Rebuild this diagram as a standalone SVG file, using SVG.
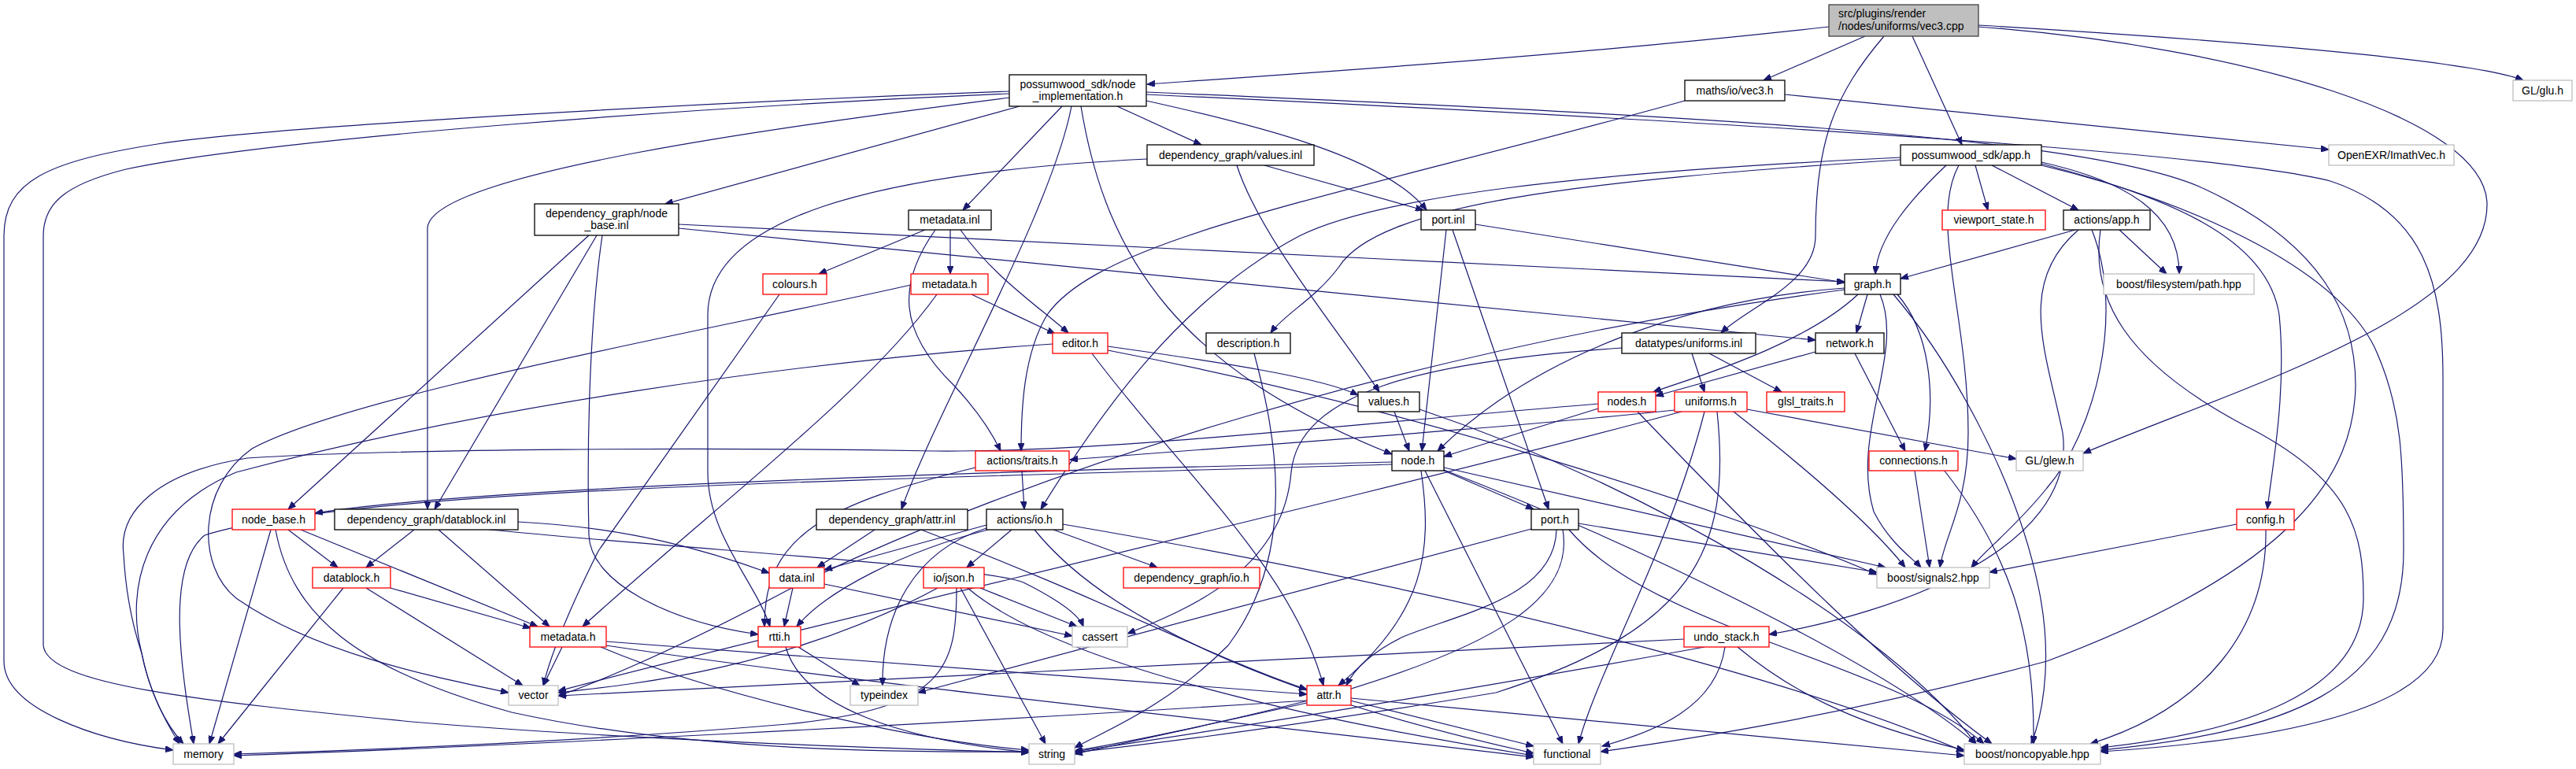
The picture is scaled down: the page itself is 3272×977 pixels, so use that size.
<svg xmlns="http://www.w3.org/2000/svg" width="3272" height="977" viewBox="0 0 3272 977">
<style>
.n rect{fill:#fff;stroke:#000;stroke-width:1.3}
.r rect{stroke:#ff0000}
.g rect{stroke:#bfbfbf}
.root rect{fill:#bfbfbf;stroke:#404040}
text{font-family:"Liberation Sans",Arial,sans-serif;font-size:14px;fill:#000;text-anchor:middle}
#edges path{fill:none;stroke:#191970;stroke-width:1.2;marker-end:url(#a)}
</style>
<defs>
<marker id="a" markerWidth="11" markerHeight="8" refX="10" refY="4" orient="auto" markerUnits="userSpaceOnUse"><path d="M0,0 L10,4 L0,8 z" fill="#191970" stroke="#191970"/></marker>
</defs>
<rect width="3272" height="977" fill="#fff"/>
<g id="edges">
<path d="M2323,34 C2000,70 1700,90 1457,107"/>
<path d="M2369,46 L2240,102"/>
<path d="M2393,46 C2330,120 2306,180 2306,300 C2306,360 2220,390 2186,423"/>
<path d="M2429,46 L2492,184"/>
<path d="M2513,32 C2900,55 3150,80 3205,102"/>
<path d="M2513,34 C2850,60 3159,150 3159,260 C3159,400 2850,490 2646,576"/>
<path d="M1282,116 C900,130 350,160 200,183 C60,205 5,230 5,300 L5,840 C5,900 120,940 220,953"/>
<path d="M1282,119 C900,135 350,175 160,215 C80,235 55,260 55,300 L55,820 C60,870 250,890 523,917 C800,940 1100,950 1307,956"/>
<path d="M1282,124 C1000,160 545,220 543,290 L543,647"/>
<path d="M1295,135 L845,259"/>
<path d="M1349,135 L1223,267"/>
<path d="M1361,135 C1335,270 1190,520 1145,647"/>
<path d="M1373,135 C1405,330 1500,470 1768,577"/>
<path d="M1419,135 L1526,184"/>
<path d="M1456,128 C1600,160 1760,200 1812,267"/>
<path d="M1456,117 C2100,145 2650,170 2800,240 C2950,310 2992,400 2992,490 C2990,600 2920,720 2600,840 C2300,920 2100,945 2033,955"/>
<path d="M1456,120 C2100,150 2800,190 2960,230 C3080,270 3103,360 3103,480 L3103,800 C3103,900 2900,940 2668,955"/>
<path d="M2267,120 L2958,190"/>
<path d="M2140,128 C1700,250 1400,300 1330,400 C1300,450 1297,520 1297,573"/>
<path d="M1457,202 C1100,220 899,280 899,400 L899,600 C899,680 960,740 978,796"/>
<path d="M1571,210 C1600,300 1700,420 1752,498"/>
<path d="M1606,210 L1808,267"/>
<path d="M2509,210 L2525,267"/>
<path d="M2530,210 L2640,267"/>
<path d="M2593,206 C2700,230 2768,270 2768,348"/>
<path d="M2472,210 C2430,250 2385,300 2382,348"/>
<path d="M2488,210 C2450,280 2500,400 2500,550 C2500,640 2470,680 2464,721"/>
<path d="M2414,203 C2000,230 1750,260 1700,340 C1670,380 1630,400 1614,423"/>
<path d="M2414,200 C2000,220 1750,250 1650,300 C1500,380 1400,520 1322,647"/>
<path d="M2593,208 C2750,250 2880,300 2895,400 C2905,500 2885,600 2880,647"/>
<path d="M2593,210 C2800,260 2980,350 3020,450 C3050,520 3053,580 3053,700 C3053,880 2900,930 2668,953"/>
<path d="M748,299 L366,647"/>
<path d="M758,299 L552,647"/>
<path d="M765,299 C750,400 745,550 748,680 C750,740 850,790 963,806"/>
<path d="M862,285 L2343,358"/>
<path d="M862,290 L2306,432"/>
<path d="M1175,292 L1040,348"/>
<path d="M1207,292 L1207,348"/>
<path d="M1220,292 C1260,350 1320,390 1357,423"/>
<path d="M1188,292 C1140,360 1140,420 1212,490 C1240,520 1260,550 1271,573"/>
<path d="M1837,292 L1806,573"/>
<path d="M1845,292 L1967,647"/>
<path d="M1874,285 L2343,359"/>
<path d="M2636,292 L2414,354"/>
<path d="M2692,292 L2752,348"/>
<path d="M2640,292 C2560,360 2600,450 2620,550 C2640,700 2400,780 2247,806"/>
<path d="M2657,292 C2700,400 2660,550 2600,620 C2560,670 2520,700 2504,721"/>
<path d="M2668,292 C2655,380 2700,460 2850,540 C2990,610 3002,680 3002,760 C3002,880 2850,930 2668,950"/>
<path d="M990,374 C900,500 830,600 760,700 C720,780 700,830 690,871"/>
<path d="M1234,374 L1340,424"/>
<path d="M1157,362 C900,420 450,500 320,570 C250,620 250,720 300,760 C400,830 550,860 646,880"/>
<path d="M1190,374 C1100,500 900,650 740,796"/>
<path d="M1337,437 C1000,460 600,520 300,600 C180,650 160,750 180,830 C190,880 210,920 233,945"/>
<path d="M1387,449 C1500,600 1640,720 1681,871"/>
<path d="M1407,440 C1550,460 1680,480 1725,502"/>
<path d="M1407,445 C1800,520 2200,650 2384,730"/>
<path d="M1593,449 C1620,550 1650,700 1560,820 C1480,900 1400,930 1365,950"/>
<path d="M2149,449 L2165,498"/>
<path d="M2171,449 L2263,498"/>
<path d="M2060,442 C1800,460 1650,500 1640,600 C1630,720 1520,770 1432,805"/>
<path d="M2306,447 L2103,503"/>
<path d="M2356,449 L2420,573"/>
<path d="M2372,374 L2358,423"/>
<path d="M2360,374 C2290,440 2150,480 2100,498"/>
<path d="M2410,374 C2450,420 2460,500 2445,573"/>
<path d="M2343,366 C2150,380 1950,450 1826,573"/>
<path d="M2388,374 C2420,450 2350,550 2380,650 C2400,690 2430,710 2440,721"/>
<path d="M2405,374 C2470,450 2560,600 2590,750 C2610,850 2590,920 2580,945"/>
<path d="M2343,368 C1800,440 1300,600 1000,750 C850,830 750,870 709,884"/>
<path d="M1771,523 L1790,573"/>
<path d="M1803,520 C2100,620 2400,800 2510,945"/>
<path d="M2030,519 L1834,580"/>
<path d="M2030,513 C1700,540 1400,575 1186,573 C900,568 500,570 314,582 C200,600 150,650 157,704 C160,760 170,800 180,830 C190,880 212,920 228,945"/>
<path d="M2127,521 C1900,545 1600,565 1359,584"/>
<path d="M2080,523 C2250,700 2400,850 2530,945"/>
<path d="M2219,520 L2561,583"/>
<path d="M2165,523 C2120,700 2030,850 2005,945"/>
<path d="M2181,523 C2200,700 2150,800 1900,880 C1600,930 1420,950 1365,956"/>
<path d="M2202,523 C2300,600 2380,670 2420,721"/>
<path d="M2136,523 C1700,640 1000,800 709,878"/>
<path d="M1298,598 L1301,647"/>
<path d="M1239,594 C1050,640 970,680 971,796"/>
<path d="M1768,587 C1200,600 600,620 400,652"/>
<path d="M1768,590 C1100,610 450,620 260,680 C210,720 230,850 246,945"/>
<path d="M1834,598 L1948,647"/>
<path d="M1805,598 C1820,700 1810,780 1700,871"/>
<path d="M1810,598 L1985,945"/>
<path d="M1834,594 L2395,721"/>
<path d="M1834,597 C2100,700 2400,850 2510,945"/>
<path d="M2432,598 L2451,721"/>
<path d="M2469,597 C2550,700 2585,800 2583,945"/>
<path d="M366,673 L429,721"/>
<path d="M382,673 L683,796"/>
<path d="M344,673 L266,945"/>
<path d="M350,673 C370,780 450,850 650,905 C900,960 1200,955 1307,955"/>
<path d="M526,673 L465,721"/>
<path d="M557,673 L698,796"/>
<path d="M658,663 C800,670 900,700 977,728"/>
<path d="M622,673 C900,700 1250,720 1300,740 C1340,760 1370,780 1376,796"/>
<path d="M1111,673 L1038,721"/>
<path d="M1170,673 C1400,760 1550,840 1660,876"/>
<path d="M1253,667 L1047,724"/>
<path d="M1255,673 C1150,700 1050,750 1012,796"/>
<path d="M1285,673 L1228,721"/>
<path d="M1338,673 L1470,721"/>
<path d="M1253,671 C1160,700 1120,780 1121,871"/>
<path d="M1314,673 C1400,780 1600,880 1948,957"/>
<path d="M1350,666 C1900,760 2300,870 2495,955"/>
<path d="M1977,673 C1975,760 1850,780 1780,810 C1740,830 1720,850 1710,871"/>
<path d="M1945,672 L1166,880"/>
<path d="M2005,665 L2384,727"/>
<path d="M1985,673 C2000,760 1900,820 1700,880 C1550,920 1420,945 1365,954"/>
<path d="M1993,673 C2100,800 2400,840 2520,945"/>
<path d="M2841,666 L2527,727"/>
<path d="M2878,673 C2880,800 2800,900 2655,945"/>
<path d="M496,747 L674,798"/>
<path d="M465,747 L664,871"/>
<path d="M436,747 L277,945"/>
<path d="M1007,747 L996,796"/>
<path d="M1047,742 L1362,808"/>
<path d="M1245,747 L1368,796"/>
<path d="M1191,747 C1000,850 800,870 709,880"/>
<path d="M1215,747 C1215,850 1200,900 1000,920 C700,945 400,955 297,958"/>
<path d="M1220,747 L1328,945"/>
<path d="M1229,747 C1350,850 1700,920 1948,960"/>
<path d="M714,822 L690,871"/>
<path d="M770,815 L1660,882"/>
<path d="M763,822 C900,880 1150,940 1307,953"/>
<path d="M770,820 C1100,870 1600,920 1948,962"/>
<path d="M1014,822 L1092,871"/>
<path d="M998,822 C1020,900 1150,940 1307,956"/>
<path d="M2139,812 L709,884"/>
<path d="M2165,822 C1900,870 1600,920 1365,955"/>
<path d="M2191,822 C2180,900 2100,930 2035,948"/>
<path d="M2207,822 C2300,900 2400,930 2495,953"/>
<path d="M1660,890 C1200,920 600,950 297,960"/>
<path d="M1660,893 L1365,958"/>
<path d="M1715,890 L1948,948"/>
<path d="M1716,887 L2495,960"/>
</g>
<g id="n-root" class="n root"><rect x="2323" y="6" width="190" height="40"/><text x="2335" y="22" style="text-anchor:start">src/plugins/render</text><text x="2335" y="38" style="text-anchor:start">/nodes/uniforms/vec3.cpp</text></g>
<g id="n-node-implementation" class="n"><rect x="1282" y="95" width="174" height="40"/><text x="1369" y="112">possumwood_sdk/node</text><text x="1369" y="127">_implementation.h</text></g>
<g id="n-maths-vec3" class="n"><rect x="2140" y="102" width="127" height="26"/><text x="2203.5" y="120">maths/io/vec3.h</text></g>
<g id="n-glu" class="n g"><rect x="3192" y="102" width="75" height="26"/><text x="3229.5" y="120">GL/glu.h</text></g>
<g id="n-values-inl" class="n"><rect x="1457" y="184" width="212" height="26"/><text x="1563" y="202">dependency_graph/values.inl</text></g>
<g id="n-app" class="n"><rect x="2414" y="184" width="179" height="26"/><text x="2503.5" y="202">possumwood_sdk/app.h</text></g>
<g id="n-imathvec" class="n g"><rect x="2958" y="184" width="159" height="26"/><text x="3037.5" y="202">OpenEXR/ImathVec.h</text></g>
<g id="n-node-base-inl" class="n"><rect x="679" y="259" width="183" height="40"/><text x="770.5" y="276">dependency_graph/node</text><text x="770.5" y="291">_base.inl</text></g>
<g id="n-metadata-inl" class="n"><rect x="1154" y="267" width="105" height="25"/><text x="1206.5" y="284">metadata.inl</text></g>
<g id="n-port-inl" class="n"><rect x="1805" y="267" width="69" height="25"/><text x="1839.5" y="284">port.inl</text></g>
<g id="n-viewport-state" class="n r"><rect x="2467" y="267" width="131" height="25"/><text x="2532.5" y="284">viewport_state.h</text></g>
<g id="n-actions-app" class="n"><rect x="2621" y="267" width="110" height="25"/><text x="2676" y="284">actions/app.h</text></g>
<g id="n-colours" class="n r"><rect x="969" y="348" width="81" height="26"/><text x="1009.5" y="366">colours.h</text></g>
<g id="n-metadata-h1" class="n r"><rect x="1157" y="348" width="98" height="26"/><text x="1206" y="366">metadata.h</text></g>
<g id="n-graph" class="n"><rect x="2343" y="348" width="71" height="26"/><text x="2378.5" y="366">graph.h</text></g>
<g id="n-path" class="n g"><rect x="2672" y="348" width="191" height="26"/><text x="2767.5" y="366">boost/filesystem/path.hpp</text></g>
<g id="n-editor" class="n r"><rect x="1337" y="423" width="70" height="26"/><text x="1372" y="441">editor.h</text></g>
<g id="n-description" class="n"><rect x="1532" y="423" width="107" height="26"/><text x="1585.5" y="441">description.h</text></g>
<g id="n-uniforms-inl" class="n"><rect x="2060" y="423" width="170" height="26"/><text x="2145" y="441">datatypes/uniforms.inl</text></g>
<g id="n-network" class="n"><rect x="2306" y="423" width="87" height="26"/><text x="2349.5" y="441">network.h</text></g>
<g id="n-values" class="n"><rect x="1725" y="498" width="78" height="25"/><text x="1764" y="515">values.h</text></g>
<g id="n-nodes" class="n r"><rect x="2030" y="498" width="73" height="25"/><text x="2066.5" y="515">nodes.h</text></g>
<g id="n-uniforms" class="n r"><rect x="2127" y="498" width="92" height="25"/><text x="2173" y="515">uniforms.h</text></g>
<g id="n-glsl-traits" class="n r"><rect x="2244" y="498" width="99" height="25"/><text x="2293.5" y="515">glsl_traits.h</text></g>
<g id="n-traits" class="n r"><rect x="1239" y="573" width="119" height="25"/><text x="1298.5" y="590">actions/traits.h</text></g>
<g id="n-node" class="n"><rect x="1768" y="573" width="66" height="25"/><text x="1801" y="590">node.h</text></g>
<g id="n-connections" class="n r"><rect x="2374" y="573" width="113" height="25"/><text x="2430.5" y="590">connections.h</text></g>
<g id="n-glew" class="n g"><rect x="2561" y="573" width="85" height="25"/><text x="2603.5" y="590">GL/glew.h</text></g>
<g id="n-node-base" class="n r"><rect x="295" y="647" width="105" height="26"/><text x="347.5" y="665">node_base.h</text></g>
<g id="n-datablock-inl" class="n"><rect x="425" y="647" width="233" height="26"/><text x="541.5" y="665">dependency_graph/datablock.inl</text></g>
<g id="n-attr-inl" class="n"><rect x="1037" y="647" width="192" height="26"/><text x="1133" y="665">dependency_graph/attr.inl</text></g>
<g id="n-actions-io" class="n"><rect x="1253" y="647" width="97" height="26"/><text x="1301.5" y="665">actions/io.h</text></g>
<g id="n-port" class="n"><rect x="1945" y="647" width="60" height="26"/><text x="1975" y="665">port.h</text></g>
<g id="n-config" class="n r"><rect x="2841" y="647" width="73" height="26"/><text x="2877.5" y="665">config.h</text></g>
<g id="n-datablock" class="n r"><rect x="397" y="721" width="99" height="26"/><text x="446.5" y="739">datablock.h</text></g>
<g id="n-data-inl" class="n r"><rect x="977" y="721" width="70" height="26"/><text x="1012" y="739">data.inl</text></g>
<g id="n-json" class="n r"><rect x="1173" y="721" width="77" height="26"/><text x="1211.5" y="739">io/json.h</text></g>
<g id="n-dg-io" class="n r"><rect x="1427" y="721" width="173" height="26"/><text x="1513.5" y="739">dependency_graph/io.h</text></g>
<g id="n-signals2" class="n g"><rect x="2384" y="721" width="143" height="26"/><text x="2455.5" y="739">boost/signals2.hpp</text></g>
<g id="n-metadata-h2" class="n r"><rect x="673" y="796" width="97" height="26"/><text x="721.5" y="814">metadata.h</text></g>
<g id="n-rtti" class="n r"><rect x="963" y="796" width="54" height="26"/><text x="990" y="814">rtti.h</text></g>
<g id="n-cassert" class="n g"><rect x="1362" y="796" width="70" height="26"/><text x="1397" y="814">cassert</text></g>
<g id="n-undo-stack" class="n r"><rect x="2139" y="796" width="108" height="26"/><text x="2193" y="814">undo_stack.h</text></g>
<g id="n-vector" class="n g"><rect x="646" y="871" width="63" height="25"/><text x="677.5" y="888">vector</text></g>
<g id="n-typeindex" class="n g"><rect x="1080" y="871" width="86" height="25"/><text x="1123" y="888">typeindex</text></g>
<g id="n-attr" class="n r"><rect x="1660" y="871" width="56" height="25"/><text x="1688" y="888">attr.h</text></g>
<g id="n-memory" class="n g"><rect x="220" y="945" width="77" height="26"/><text x="258.5" y="963">memory</text></g>
<g id="n-string" class="n g"><rect x="1307" y="945" width="58" height="26"/><text x="1336" y="963">string</text></g>
<g id="n-functional" class="n g"><rect x="1948" y="945" width="85" height="26"/><text x="1990.5" y="963">functional</text></g>
<g id="n-noncopyable" class="n g"><rect x="2495" y="945" width="173" height="26"/><text x="2581.5" y="963">boost/noncopyable.hpp</text></g>
</svg>
